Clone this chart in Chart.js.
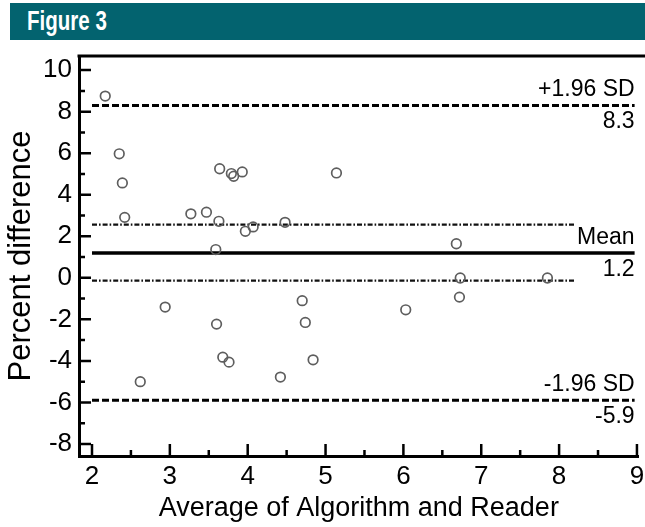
<!DOCTYPE html>
<html>
<head>
<meta charset="utf-8">
<script src="https://cdn.jsdelivr.net/npm/chart.js@4.4.1/dist/chart.umd.min.js"></script>
<style>
  body { margin: 0; background: #fff; }
  #wrap { position: relative; width: 645px; height: 527px; }
  #hdr {
    position: absolute; left: 10px; top: 3px; width: 635px; height: 37px;
    background: #03636f;
  }
  #hdr span {
    position: absolute; left: 17px; top: 0; color: #fff;
    font: bold 27px "Liberation Sans", Arial, sans-serif; line-height: 37px;
    transform: scaleX(0.76); transform-origin: 0 50%; white-space: nowrap;
  }
  canvas { position: absolute; left: 0; top: 0; }
</style>
</head>
<body>
<div id="wrap">
  <div id="hdr"><span>Figure 3</span></div>
  <canvas id="chart" width="645" height="527"></canvas>
</div>
<script>
// points
const avgValues = [2.17, 2.35, 2.39, 2.42, 3.27, 3.47, 3.63, 3.64, 3.79, 3.82,
                   3.93, 3.97, 4.07, 4.48, 3.59, 5.14, 2.94, 3.60, 3.68, 3.76,
                   2.62, 4.70, 4.74, 4.84, 4.42, 6.68, 6.73, 6.72, 6.03, 7.85];
const pctDiff = [8.75, 5.97, 4.57, 2.91, 3.08, 3.16, 2.72, 5.25, 5.02, 4.89,
                 5.10, 2.24, 2.45, 2.67, 1.36, 5.05, -1.41, -2.23, -3.82, -4.06,
                 -5.00, -1.10, -2.15, -3.95, -4.78, 1.64, -0.01, -0.93, -1.54, -0.01];

const xTicks = [2, 3, 4, 5, 6, 7, 8, 9];
const yTicks = [-8, -6, -4, -2, 0, 2, 4, 6, 8, 10];

// limits of agreement
const limitNames = ["+1.96 SD", "Mean", "-1.96 SD"];
const limitValues = [8.3, 1.2, -5.9];
const ciValues = [2.56, -0.14];

const lineStart = 2, lineEnd = 8.97, ciEnd = 8.2;

const FONT = "'Liberation Sans', Arial, sans-serif";

function hLine(y, x1, x2) {
  return [{ x: x1, y: y }, { x: x2, y: y }];
}

const datasets = [
  {
    label: "points",
    data: avgValues.map((x, i) => ({ x: x, y: pctDiff[i] })),
    pointStyle: "circle",
    pointRadius: 4.8,
    pointBorderWidth: 1.7,
    pointBorderColor: "#5e5e5e",
    pointBackgroundColor: "rgba(255,255,255,0)",
    showLine: false
  },
  {
    type: "line", data: hLine(limitValues[0], lineStart, lineEnd),
    borderColor: "#000", borderWidth: 3, borderDash: [7, 3], pointRadius: 0
  },
  {
    type: "line", data: hLine(limitValues[1], lineStart, lineEnd),
    borderColor: "#000", borderWidth: 3.5, pointRadius: 0
  },
  {
    type: "line", data: hLine(limitValues[2], lineStart, lineEnd),
    borderColor: "#000", borderWidth: 3, borderDash: [7, 3], pointRadius: 0
  },
  {
    type: "line", data: hLine(ciValues[0], lineStart, ciEnd),
    borderColor: "#111", borderWidth: 2.2, borderDash: [5, 2, 1.6, 2], pointRadius: 0
  },
  {
    type: "line", data: hLine(ciValues[1], lineStart, ciEnd),
    borderColor: "#111", borderWidth: 2.2, borderDash: [5, 2, 1.6, 2], pointRadius: 0
  }
];

// inward tick marks, top frame line and the limit labels
const decorPlugin = {
  id: "decor",
  afterDraw(chart) {
    const ctx = chart.ctx;
    const xs = chart.scales.x, ys = chart.scales.y;
    const a = chart.chartArea;
    ctx.save();
    ctx.strokeStyle = "#000";
    ctx.lineWidth = 2.5;
    ctx.beginPath();
    for (let v = -8; v <= 10; v += 1) {
      const y = ys.getPixelForValue(v);
      const len = v % 2 === 0 ? 12 : 6;
      ctx.moveTo(a.left, y);
      ctx.lineTo(a.left + len, y);
    }
    for (let v = 2; v <= 9; v += 0.5) {
      const x = xs.getPixelForValue(v);
      const len = Number.isInteger(v) ? 12 : 6;
      ctx.moveTo(x, a.bottom);
      ctx.lineTo(x, a.bottom - len);
    }
    ctx.stroke();

    ctx.lineWidth = 3;
    ctx.beginPath();
    ctx.moveTo(a.left - 1.5, a.top);
    ctx.lineTo(chart.width, a.top);
    ctx.stroke();

    ctx.fillStyle = "#000";
    ctx.font = "23px " + FONT;
    ctx.textAlign = "right";
    const tx = xs.getPixelForValue(lineEnd);
    limitNames.forEach((name, i) => {
      const y = ys.getPixelForValue(limitValues[i]);
      ctx.textBaseline = "bottom";
      ctx.fillText(name, tx, y - 4);
      ctx.textBaseline = "top";
      ctx.fillText(limitValues[i].toFixed(1), tx, y + 5);
    });
    ctx.restore();
  }
};

function noLabelPadding(s) {
  s.paddingLeft = 0; s.paddingRight = 0; s.paddingTop = 0; s.paddingBottom = 0;
}

new Chart(document.getElementById("chart"), {
  type: "scatter",
  data: { datasets: datasets },
  options: {
    responsive: false,
    animation: false,
    layout: { padding: { top: 56, right: 5, bottom: 0, left: 0 } },
    plugins: { legend: { display: false }, tooltip: { enabled: false } },
    scales: {
      x: {
        type: "linear",
        min: 1.833,
        max: 9.02,
        afterBuildTicks: (s) => { s.ticks = xTicks.map(v => ({ value: v })); },
        afterFit: (s) => { s.height = 71; noLabelPadding(s); },
        grid: { display: false, drawTicks: false },
        border: { display: true, color: "#000", width: 3 },
        ticks: { color: "#000", padding: 5, font: { family: FONT, size: 26 } },
        title: {
          display: true, text: "Average of Algorithm and Reader", color: "#000",
          font: { family: FONT, size: 27 }, padding: { top: 0, bottom: 2 }
        }
      },
      y: {
        min: -8.58,
        max: 10.68,
        afterBuildTicks: (s) => { s.ticks = yTicks.map(v => ({ value: v })); },
        afterFit: (s) => { s.width = 79; noLabelPadding(s); },
        grid: { display: false, drawTicks: false },
        border: { display: true, color: "#000", width: 3 },
        ticks: { color: "#000", padding: 7, font: { family: FONT, size: 26 } },
        title: {
          display: true, text: "Percent difference", color: "#000",
          font: { family: FONT, size: 31 }, padding: { top: 3, bottom: 0 }
        }
      }
    }
  },
  plugins: [decorPlugin]
});
</script>
</body>
</html>
